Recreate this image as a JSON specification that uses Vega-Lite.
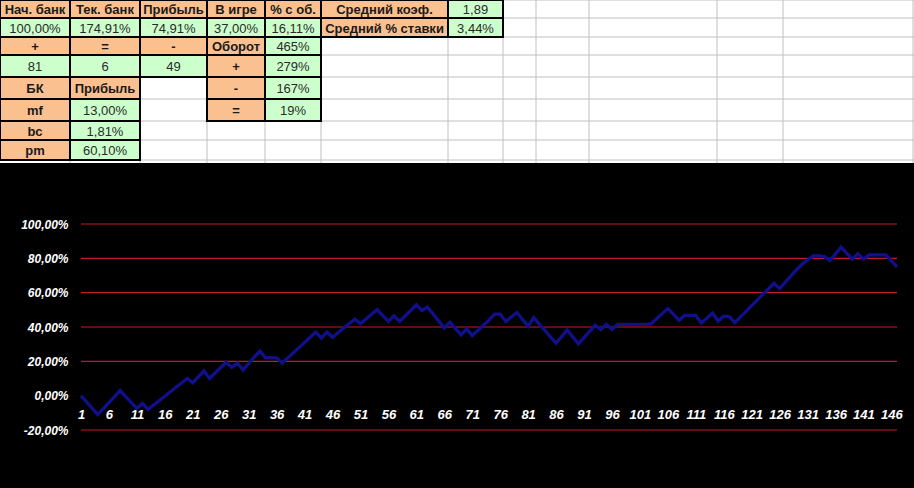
{
  "$schema": "https://vega.github.io/schema/vega-lite/v6.json",
  "width": 914,
  "height": 488,
  "padding": 0,
  "autosize": {"type": "none"},
  "background": "#000000",
  "config": {"view": {"stroke": null}, "font": "Liberation Sans"},
  "datasets": {
    "sheet": [{"c0": 0, "c1": 13, "r0": 0, "r1": 9}],
    "colEdges": [{"e": 1}, {"e": 2}, {"e": 3}, {"e": 4}, {"e": 5}, {"e": 6}, {"e": 7}, {"e": 8}, {"e": 9}, {"e": 10}, {"e": 11}, {"e": 12}],
    "rowEdges": [{"e": 0}, {"e": 1}, {"e": 2}, {"e": 3}, {"e": 4}, {"e": 5}, {"e": 6}, {"e": 7}, {"e": 8}],
    "cells": [
      {"col": 0, "row": 0, "label": "Нач. банк", "kind": "head"},
      {"col": 1, "row": 0, "label": "Тек. банк", "kind": "head"},
      {"col": 2, "row": 0, "label": "Прибыль", "kind": "head"},
      {"col": 3, "row": 0, "label": "В игре", "kind": "head"},
      {"col": 4, "row": 0, "label": "% с об.", "kind": "head"},
      {"col": 5, "row": 0, "label": "Средний коэф.", "kind": "head"},
      {"col": 6, "row": 0, "label": "1,89", "kind": "val"},
      {"col": 0, "row": 1, "label": "100,00%", "kind": "val"},
      {"col": 1, "row": 1, "label": "174,91%", "kind": "val"},
      {"col": 2, "row": 1, "label": "74,91%", "kind": "val"},
      {"col": 3, "row": 1, "label": "37,00%", "kind": "val"},
      {"col": 4, "row": 1, "label": "16,11%", "kind": "val"},
      {"col": 5, "row": 1, "label": "Средний % ставки", "kind": "head"},
      {"col": 6, "row": 1, "label": "3,44%", "kind": "val"},
      {"col": 0, "row": 2, "label": "+", "kind": "head"},
      {"col": 1, "row": 2, "label": "=", "kind": "head"},
      {"col": 2, "row": 2, "label": "-", "kind": "head"},
      {"col": 3, "row": 2, "label": "Оборот", "kind": "head"},
      {"col": 4, "row": 2, "label": "465%", "kind": "val"},
      {"col": 0, "row": 3, "label": "81", "kind": "val"},
      {"col": 1, "row": 3, "label": "6", "kind": "val"},
      {"col": 2, "row": 3, "label": "49", "kind": "val"},
      {"col": 3, "row": 3, "label": "+", "kind": "head"},
      {"col": 4, "row": 3, "label": "279%", "kind": "val"},
      {"col": 0, "row": 4, "label": "БК", "kind": "head"},
      {"col": 1, "row": 4, "label": "Прибыль", "kind": "head"},
      {"col": 3, "row": 4, "label": "-", "kind": "head"},
      {"col": 4, "row": 4, "label": "167%", "kind": "val"},
      {"col": 0, "row": 5, "label": "mf", "kind": "head"},
      {"col": 1, "row": 5, "label": "13,00%", "kind": "val"},
      {"col": 3, "row": 5, "label": "=", "kind": "head"},
      {"col": 4, "row": 5, "label": "19%", "kind": "val"},
      {"col": 0, "row": 6, "label": "bc", "kind": "head"},
      {"col": 1, "row": 6, "label": "1,81%", "kind": "val"},
      {"col": 0, "row": 7, "label": "pm", "kind": "head"},
      {"col": 1, "row": 7, "label": "60,10%", "kind": "val"}
    ],
    "levels": [{"v": -20}, {"v": 20}, {"v": 40}, {"v": 60}, {"v": 80}, {"v": 100}],
    "series": [
      {"n": 1, "bank": 0}, {"n": 2, "bank": -3.7}, {"n": 3, "bank": -7.3}, {"n": 4, "bank": -11}, {"n": 5, "bank": -7.5},
      {"n": 6, "bank": -4}, {"n": 7, "bank": -0.5}, {"n": 8, "bank": 3}, {"n": 9, "bank": -0.5}, {"n": 10, "bank": -4},
      {"n": 11, "bank": -7.5}, {"n": 12, "bank": -4.5}, {"n": 13, "bank": -8}, {"n": 14, "bank": -5.4}, {"n": 15, "bank": -2.9},
      {"n": 16, "bank": -0.3}, {"n": 17, "bank": 2.3}, {"n": 18, "bank": 4.9}, {"n": 19, "bank": 7.4}, {"n": 20, "bank": 10},
      {"n": 21, "bank": 7.5}, {"n": 22, "bank": 11}, {"n": 23, "bank": 14.5}, {"n": 24, "bank": 10}, {"n": 25, "bank": 13.2},
      {"n": 26, "bank": 16.4}, {"n": 27, "bank": 19.5}, {"n": 28, "bank": 16.5}, {"n": 29, "bank": 19}, {"n": 30, "bank": 15},
      {"n": 31, "bank": 18.7}, {"n": 32, "bank": 22.4}, {"n": 33, "bank": 26}, {"n": 34, "bank": 22}, {"n": 35, "bank": 22.2},
      {"n": 36, "bank": 22}, {"n": 37, "bank": 19}, {"n": 38, "bank": 22}, {"n": 39, "bank": 25}, {"n": 40, "bank": 28},
      {"n": 41, "bank": 31}, {"n": 42, "bank": 34}, {"n": 43, "bank": 37}, {"n": 44, "bank": 33.5}, {"n": 45, "bank": 37},
      {"n": 46, "bank": 34}, {"n": 47, "bank": 36.7}, {"n": 48, "bank": 39.4}, {"n": 49, "bank": 42}, {"n": 50, "bank": 44.6},
      {"n": 51, "bank": 42}, {"n": 52, "bank": 44.7}, {"n": 53, "bank": 47.4}, {"n": 54, "bank": 50}, {"n": 55, "bank": 46.6},
      {"n": 56, "bank": 43.2}, {"n": 57, "bank": 46.5}, {"n": 58, "bank": 43.2}, {"n": 59, "bank": 46.4}, {"n": 60, "bank": 49.6},
      {"n": 61, "bank": 52.9}, {"n": 62, "bank": 49.6}, {"n": 63, "bank": 51.6}, {"n": 64, "bank": 47.5}, {"n": 65, "bank": 43.5},
      {"n": 66, "bank": 39.4}, {"n": 67, "bank": 42.8}, {"n": 68, "bank": 39.1}, {"n": 69, "bank": 35.5}, {"n": 70, "bank": 38.8},
      {"n": 71, "bank": 35}, {"n": 72, "bank": 38}, {"n": 73, "bank": 41}, {"n": 74, "bank": 44}, {"n": 75, "bank": 47.5},
      {"n": 76, "bank": 47.5}, {"n": 77, "bank": 43.2}, {"n": 78, "bank": 45.8}, {"n": 79, "bank": 48.4}, {"n": 80, "bank": 44.4},
      {"n": 81, "bank": 40.4}, {"n": 82, "bank": 45.5}, {"n": 83, "bank": 41.7}, {"n": 84, "bank": 38}, {"n": 85, "bank": 34.2},
      {"n": 86, "bank": 30.5}, {"n": 87, "bank": 34.4}, {"n": 88, "bank": 38.3}, {"n": 89, "bank": 34.2}, {"n": 90, "bank": 30.2},
      {"n": 91, "bank": 33.8}, {"n": 92, "bank": 37.4}, {"n": 93, "bank": 41}, {"n": 94, "bank": 38.5}, {"n": 95, "bank": 41.5},
      {"n": 96, "bank": 38.7}, {"n": 97, "bank": 41.5}, {"n": 98, "bank": 41.5}, {"n": 99, "bank": 41.5}, {"n": 100, "bank": 41.5},
      {"n": 101, "bank": 41.5}, {"n": 102, "bank": 41.5}, {"n": 103, "bank": 41.8}, {"n": 104, "bank": 44.8}, {"n": 105, "bank": 47.8},
      {"n": 106, "bank": 50.8}, {"n": 107, "bank": 47.3}, {"n": 108, "bank": 43.8}, {"n": 109, "bank": 46.7}, {"n": 110, "bank": 46.7},
      {"n": 111, "bank": 46.7}, {"n": 112, "bank": 42.3}, {"n": 113, "bank": 45.2}, {"n": 114, "bank": 48}, {"n": 115, "bank": 43.5},
      {"n": 116, "bank": 46.3}, {"n": 117, "bank": 46}, {"n": 118, "bank": 42.6}, {"n": 119, "bank": 45.9}, {"n": 120, "bank": 49.1},
      {"n": 121, "bank": 52.4}, {"n": 122, "bank": 55.7}, {"n": 123, "bank": 59}, {"n": 124, "bank": 62.2}, {"n": 125, "bank": 65.5},
      {"n": 126, "bank": 62.3}, {"n": 127, "bank": 66}, {"n": 128, "bank": 69.6}, {"n": 129, "bank": 73.2}, {"n": 130, "bank": 76.5},
      {"n": 131, "bank": 79}, {"n": 132, "bank": 81.4}, {"n": 133, "bank": 81.5}, {"n": 134, "bank": 81}, {"n": 135, "bank": 78.7},
      {"n": 136, "bank": 82.6}, {"n": 137, "bank": 86.5}, {"n": 138, "bank": 83}, {"n": 139, "bank": 79.5}, {"n": 140, "bank": 82.6},
      {"n": 141, "bank": 79.5}, {"n": 142, "bank": 82}, {"n": 143, "bank": 82}, {"n": 144, "bank": 82}, {"n": 145, "bank": 82},
      {"n": 146, "bank": 78.5}, {"n": 147, "bank": 75}
    ]
  },
  "layer": [
    {
      "data": {"name": "sheet"},
      "mark": {"type": "rect", "fill": "#ffffff"},
      "encoding": {
        "x": {"field": "c0", "type": "quantitative", "axis": null, "scale": {"domain": [0, 1, 2, 3, 4, 5, 6, 7, 8, 9, 10, 11, 12, 13], "range": [0, 70, 140, 207, 265, 321, 448, 503, 536, 589, 717, 783, 913, 914], "nice": false, "zero": false}},
        "x2": {"field": "c1"},
        "y": {"field": "r0", "type": "quantitative", "axis": null, "scale": {"domain": [0, 1, 2, 3, 4, 5, 6, 7, 8, 9, 10], "range": [0, 18, 37, 55, 77, 99, 121, 140, 160, 163, 488], "nice": false, "zero": false}},
        "y2": {"field": "r1"}
      }
    },
    {
      "data": {"name": "colEdges"},
      "mark": {"type": "rule", "stroke": "#c0c0c0", "strokeWidth": 1},
      "encoding": {
        "x": {"field": "e", "type": "quantitative", "axis": null, "scale": {"domain": [0, 1, 2, 3, 4, 5, 6, 7, 8, 9, 10, 11, 12, 13], "range": [0, 70, 140, 207, 265, 321, 448, 503, 536, 589, 717, 783, 913, 914], "nice": false, "zero": false}},
        "y": {"datum": 0, "type": "quantitative", "axis": null, "scale": {"domain": [0, 1, 2, 3, 4, 5, 6, 7, 8, 9, 10], "range": [0, 18, 37, 55, 77, 99, 121, 140, 160, 163, 488], "nice": false, "zero": false}},
        "y2": {"datum": 9}
      }
    },
    {
      "data": {"name": "rowEdges"},
      "mark": {"type": "rule", "stroke": "#c0c0c0", "strokeWidth": 1},
      "encoding": {
        "y": {"field": "e", "type": "quantitative", "axis": null, "scale": {"domain": [0, 1, 2, 3, 4, 5, 6, 7, 8, 9, 10], "range": [0, 18, 37, 55, 77, 99, 121, 140, 160, 163, 488], "nice": false, "zero": false}},
        "x": {"datum": 0, "type": "quantitative", "axis": null, "scale": {"domain": [0, 1, 2, 3, 4, 5, 6, 7, 8, 9, 10, 11, 12, 13], "range": [0, 70, 140, 207, 265, 321, 448, 503, 536, 589, 717, 783, 913, 914], "nice": false, "zero": false}},
        "x2": {"datum": 13}
      }
    },
    {
      "data": {"name": "cells"},
      "transform": [{"calculate": "datum.col + 1", "as": "col2"}, {"calculate": "datum.row + 1", "as": "row2"}],
      "mark": {"type": "rect", "stroke": "#000000", "strokeWidth": 2},
      "encoding": {
        "x": {"field": "col", "type": "quantitative", "axis": null, "scale": {"domain": [0, 1, 2, 3, 4, 5, 6, 7, 8, 9, 10, 11, 12, 13], "range": [0, 70, 140, 207, 265, 321, 448, 503, 536, 589, 717, 783, 913, 914], "nice": false, "zero": false}},
        "x2": {"field": "col2"},
        "y": {"field": "row", "type": "quantitative", "axis": null, "scale": {"domain": [0, 1, 2, 3, 4, 5, 6, 7, 8, 9, 10], "range": [0, 18, 37, 55, 77, 99, 121, 140, 160, 163, 488], "nice": false, "zero": false}},
        "y2": {"field": "row2"},
        "fill": {"field": "kind", "type": "nominal", "legend": null, "scale": {"domain": ["head", "val"], "range": ["#FAC090", "#CCFFCC"]}}
      }
    },
    {
      "data": {"name": "cells"},
      "transform": [{"filter": "datum.kind === 'head'"}, {"calculate": "datum.col + 0.5", "as": "cx"}, {"calculate": "datum.row + 0.5", "as": "cy"}],
      "mark": {"type": "text", "font": "Liberation Sans", "fontSize": 13, "fontWeight": "bold", "color": "#1a1a1a", "align": "center", "baseline": "middle", "dy": 1},
      "encoding": {
        "x": {"field": "cx", "type": "quantitative", "axis": null, "scale": {"domain": [0, 1, 2, 3, 4, 5, 6, 7, 8, 9, 10, 11, 12, 13], "range": [0, 70, 140, 207, 265, 321, 448, 503, 536, 589, 717, 783, 913, 914], "nice": false, "zero": false}},
        "y": {"field": "cy", "type": "quantitative", "axis": null, "scale": {"domain": [0, 1, 2, 3, 4, 5, 6, 7, 8, 9, 10], "range": [0, 18, 37, 55, 77, 99, 121, 140, 160, 163, 488], "nice": false, "zero": false}},
        "text": {"field": "label", "type": "nominal"}
      }
    },
    {
      "data": {"name": "cells"},
      "transform": [{"filter": "datum.kind === 'val'"}, {"calculate": "datum.col + 0.5", "as": "cx"}, {"calculate": "datum.row + 0.5", "as": "cy"}],
      "mark": {"type": "text", "font": "Liberation Sans", "fontSize": 13, "color": "#2a2a2a", "align": "center", "baseline": "middle", "dy": 1},
      "encoding": {
        "x": {"field": "cx", "type": "quantitative", "axis": null, "scale": {"domain": [0, 1, 2, 3, 4, 5, 6, 7, 8, 9, 10, 11, 12, 13], "range": [0, 70, 140, 207, 265, 321, 448, 503, 536, 589, 717, 783, 913, 914], "nice": false, "zero": false}},
        "y": {"field": "cy", "type": "quantitative", "axis": null, "scale": {"domain": [0, 1, 2, 3, 4, 5, 6, 7, 8, 9, 10], "range": [0, 18, 37, 55, 77, 99, 121, 140, 160, 163, 488], "nice": false, "zero": false}},
        "text": {"field": "label", "type": "nominal"}
      }
    },
    {
      "data": {"name": "levels"},
      "mark": {"type": "rule", "stroke": "#c41a28", "strokeWidth": 1.2},
      "encoding": {
        "y": {"field": "v", "type": "quantitative", "axis": null, "scale": {"domain": [-20, 100], "range": [430, 224], "nice": false, "zero": false}},
        "x": {"datum": 1, "type": "quantitative", "axis": null, "scale": {"domain": [1, 147], "range": [81, 897], "nice": false, "zero": false}},
        "x2": {"datum": 147}
      }
    },
    {
      "data": {"name": "series"},
      "mark": {"type": "line", "stroke": "#10108c", "strokeWidth": 3.3, "strokeJoin": "miter"},
      "encoding": {
        "x": {
          "field": "n", "type": "quantitative",
          "scale": {"domain": [1, 147], "range": [81, 897], "nice": false, "zero": false},
          "axis": {
            "orient": "bottom", "offset": -92, "title": null, "domain": false, "ticks": false, "tickSize": 0, "grid": false,
            "values": [1, 6, 11, 16, 21, 26, 31, 36, 41, 46, 51, 56, 61, 66, 71, 76, 81, 86, 91, 96, 101, 106, 111, 116, 121, 126, 131, 136, 141, 146],
            "labelFlush": false, "labelOverlap": false, "labelPadding": 12,
            "labelColor": "#ffffff", "labelFont": "Liberation Sans", "labelFontSize": 13, "labelFontWeight": "bold", "labelFontStyle": "italic"
          }
        },
        "y": {
          "field": "bank", "type": "quantitative",
          "scale": {"domain": [-20, 100], "range": [430, 224], "nice": false, "zero": false},
          "axis": {
            "orient": "left", "offset": -80, "title": null, "domain": false, "ticks": false, "tickSize": 0, "grid": false,
            "values": [-20, 0, 20, 40, 60, 80, 100],
            "labelExpr": "replace(replace(format(datum.value, '.2f'), '.', ','), '\u2212', '-') + '%'",
            "labelFlush": false, "labelOverlap": false, "labelPadding": 12,
            "labelColor": "#ffffff", "labelFont": "Liberation Sans", "labelFontSize": 12, "labelFontWeight": "bold", "labelFontStyle": "italic"
          }
        }
      }
    }
  ],
  "resolve": {"scale": {"x": "independent", "y": "independent", "fill": "independent"}, "axis": {"x": "independent", "y": "independent"}}
}
